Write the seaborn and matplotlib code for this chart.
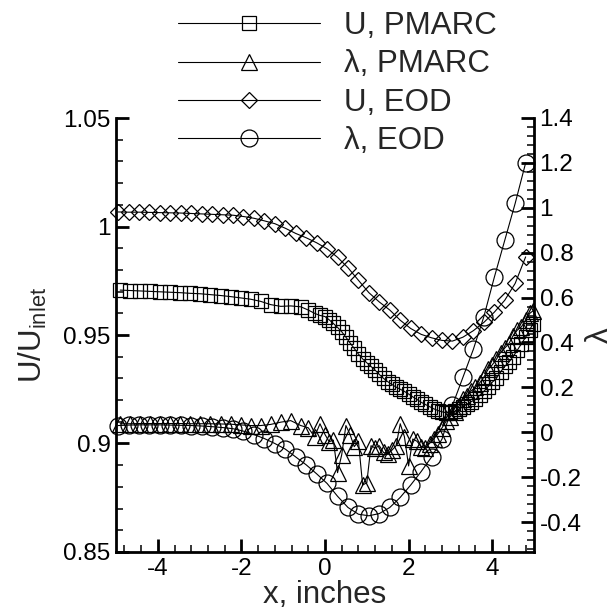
import numpy as np
import pandas as pd
import matplotlib
matplotlib.use("Agg")
import matplotlib.pyplot as plt
import seaborn as sns
from matplotlib.lines import Line2D
from matplotlib.ticker import MultipleLocator, FuncFormatter

# ---------------- data ----------------
# EOD results
x_eod = [-4.95, -4.70, -4.45, -4.20, -3.95, -3.70, -3.45, -3.20, -2.95, -2.70,
         -2.45, -2.20, -1.95, -1.70, -1.45, -1.20, -0.95, -0.70, -0.45, -0.20,
         0.05, 0.30, 0.55, 0.80, 1.05, 1.30, 1.55, 1.80, 2.05, 2.30,
         2.55, 2.80, 3.05, 3.30, 3.55, 3.80, 4.05, 4.30, 4.55, 4.80]
u_eod = [1.0067, 1.0066, 1.0066, 1.0065, 1.0064, 1.0063, 1.0062, 1.0060, 1.0058, 1.0056,
         1.0054, 1.0052, 1.0046, 1.0038, 1.0026, 1.0013, 0.9992, 0.9968, 0.9948, 0.9925,
         0.9897, 0.9858, 0.9810, 0.9752, 0.9695, 0.9652, 0.9615, 0.9568, 0.9530, 0.9503,
         0.9487, 0.9475, 0.9472, 0.9490, 0.9520, 0.9558, 0.9605, 0.9660, 0.9738, 0.9860]
lam_eod = [0.030, 0.032, 0.033, 0.033, 0.033, 0.032, 0.031, 0.030, 0.028, 0.025,
           0.021, 0.016, 0.005, -0.010, -0.028, -0.050, -0.075, -0.110, -0.145, -0.185,
           -0.228, -0.285, -0.335, -0.365, -0.372, -0.362, -0.335, -0.290, -0.235, -0.175,
           -0.110, -0.030, 0.120, 0.245, 0.370, 0.515, 0.690, 0.855, 1.020, 1.200]

# PMARC results
x_pm = [-4.90, -4.66, -4.42, -4.18, -3.94, -3.70, -3.46, -3.22, -2.98, -2.74,
        -2.50, -2.26, -2.02, -1.78, -1.54, -1.30, -1.06, -0.82, -0.58, -0.40,
        -0.25, -0.12, 0.0, 0.1, 0.2, 0.3, 0.4, 0.5, 0.6, 0.7,
        0.8, 0.9, 1.0, 1.1, 1.2, 1.3, 1.4, 1.5, 1.6, 1.7,
        1.8, 1.9, 2.0, 2.1, 2.2, 2.3, 2.4, 2.5, 2.6, 2.7,
        2.8, 2.9, 3.0, 3.1, 3.2, 3.3, 3.4, 3.5, 3.6, 3.7,
        3.8, 3.9, 4.0, 4.1, 4.2, 4.3, 4.4, 4.5, 4.6, 4.7,
        4.8, 4.9, 4.97]
u_pm = [0.9707, 0.9705, 0.9703, 0.9701, 0.9699, 0.9697, 0.9695, 0.9692, 0.9690, 0.9686,
        0.9682, 0.9677, 0.9671, 0.9665, 0.9655, 0.9640, 0.9632, 0.9634, 0.9630, 0.9615,
        0.9600, 0.9590, 0.9585, 0.9570, 0.9553, 0.9535, 0.9515, 0.9490, 0.9463, 0.9438,
        0.9412, 0.9390, 0.9372, 0.9355, 0.9338, 0.9318, 0.9300, 0.9285, 0.9272, 0.9260,
        0.9250, 0.9240, 0.9228, 0.9215, 0.9203, 0.9190, 0.9180, 0.9170, 0.9160, 0.9152,
        0.9146, 0.9142, 0.9143, 0.9148, 0.9158, 0.9170, 0.9182, 0.9193, 0.9203, 0.9222,
        0.9240, 0.9262, 0.9282, 0.9300, 0.9330, 0.9355, 0.9375, 0.9400, 0.9430, 0.9460,
        0.9490, 0.9525, 0.9550]
lam_pm = [0.038, 0.038, 0.039, 0.039, 0.039, 0.039, 0.039, 0.038, 0.038, 0.038,
          0.037, 0.036, 0.033, 0.030, 0.030, 0.035, 0.045, 0.052, 0.030, 0.020,
          -0.020, 0.038, -0.010, -0.042, -0.035, -0.180, -0.100, 0.030, -0.010, -0.064,
          -0.040, -0.235, -0.225, -0.060, -0.070, -0.060, -0.090, -0.096, -0.080, -0.060,
          0.038, -0.020, -0.150, -0.030, -0.040, -0.064, -0.070, -0.050, -0.030, -0.007,
          0.020, 0.050, 0.070, 0.090, 0.115, 0.150, 0.160, 0.185, 0.200, 0.220,
          0.245, 0.280, 0.300, 0.325, 0.355, 0.375, 0.395, 0.430, 0.455, 0.470,
          0.500, 0.530, 0.540]

labels = ["U, PMARC", "\u03bb, PMARC", "U, EOD", "\u03bb, EOD"]
x_label = "x, inches"
y_label = r"U/U$_{\mathregular{inlet}}$"
y2_label = "\u03bb"

# ---------------- style ----------------
sns.set_style("ticks")
plt.rcParams["font.family"] = ["Liberation Sans", "DejaVu Sans"]
plt.rcParams["mathtext.default"] = "regular"

W, H = 613, 612
fig = plt.figure(figsize=(W / 100, H / 100), dpi=100)
ax = fig.add_axes([116 / W, 1 - 552 / H, (534 - 116) / W, (552 - 118) / H])
ax2 = ax.twinx()

line_kw = dict(color="black", linewidth=0.8, markerfacecolor="none",
               markeredgecolor="black", markeredgewidth=0.9, clip_on=False,
               estimator=None, sort=False, legend=False)

sns.lineplot(x=x_pm, y=u_pm, ax=ax, marker="s", markersize=9.4, **line_kw)
sns.lineplot(x=x_eod, y=u_eod, ax=ax, marker="D", markersize=8.6, **line_kw)
sns.lineplot(x=x_pm, y=lam_pm, ax=ax2, marker="^", markersize=12.0, **line_kw)
sns.lineplot(x=x_eod, y=lam_eod, ax=ax2, marker="o", markersize=12.2, **line_kw)

ax.set_xlim(-5, 5)
ax.set_ylim(0.85, 1.05)
ax2.set_ylim(-0.5333, 1.4)

fmt = FuncFormatter(lambda v, p: "%g" % round(v, 6))
ax.xaxis.set_major_locator(MultipleLocator(2))
ax.xaxis.set_minor_locator(MultipleLocator(0.4))
ax.yaxis.set_major_locator(MultipleLocator(0.05))
ax.yaxis.set_minor_locator(MultipleLocator(0.01))
ax2.yaxis.set_major_locator(MultipleLocator(0.2))
ax2.yaxis.set_minor_locator(MultipleLocator(0.04))
for a in (ax.xaxis, ax.yaxis, ax2.yaxis):
    a.set_major_formatter(fmt)

for a in (ax, ax2):
    a.tick_params(which="major", direction="in", length=9.5, width=2.0,
                  labelsize=17.5, pad=4, color="black", labelcolor="black")
    a.tick_params(which="minor", direction="in", length=5, width=1.1, color="black")
ax.tick_params(which="both", top=False, right=False)
ax2.tick_params(which="both", left=False, right=True)

for s in ("top", "right"):
    ax.spines[s].set_visible(False)
for s in ("top", "left", "bottom"):
    ax2.spines[s].set_visible(False)
ax.spines["left"].set_linewidth(2)
ax.spines["bottom"].set_linewidth(2)
ax2.spines["right"].set_linewidth(2)
for sp in list(ax.spines.values()) + list(ax2.spines.values()):
    sp.set_color("black")

ax.set_xlabel(x_label, fontsize=22.5, labelpad=0)
ax.set_ylabel(y_label, fontsize=22.5, labelpad=10)
ax2.set_ylabel(y2_label, fontsize=22.5, rotation=90, labelpad=2)

# ---------------- legend ----------------
markers = ["s", "^", "D", "o"]
msizes = [9.4, 12.0, 8.6, 12.2]
handles = [Line2D([0], [0], color="black", linewidth=0.8, marker=m, markersize=ms,
                  markerfacecolor="none", markeredgecolor="black", markeredgewidth=0.9)
           for m, ms in zip(markers, msizes)]
fig.legend(handles, labels, loc="upper left", bbox_to_anchor=(178 / W, 1 - 11 / H),
           frameon=False, fontsize=22.5, handlelength=4.55, handletextpad=0.77,
           labelspacing=0.27, borderpad=0, borderaxespad=0, numpoints=1)

fig.savefig("out.png", dpi=100)
